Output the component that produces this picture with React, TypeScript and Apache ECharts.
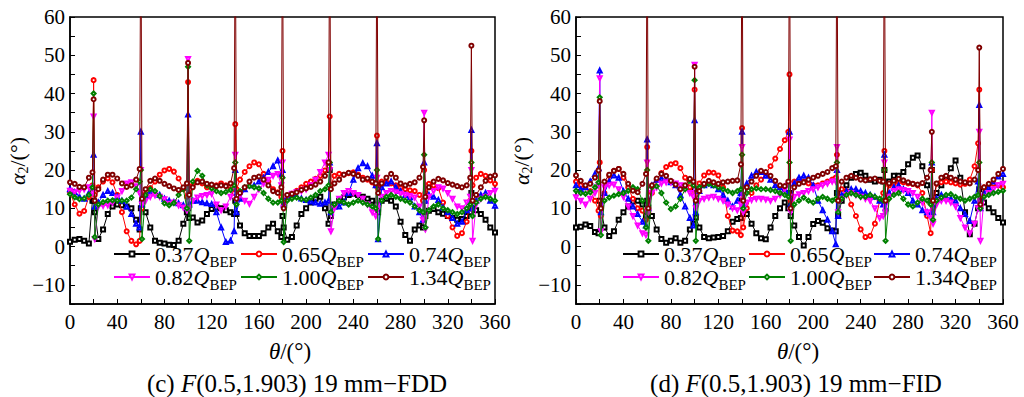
import React, { useEffect, useRef } from 'react';
import * as echarts from 'echarts';

// theta grid (deg): 4-deg steps plus points at +/-1 deg around each blade spike
const THETA = [
  0, 4, 8, 12, 16, 19, 20, 21, 24, 28, 32, 36,
  40, 44, 48, 52, 56, 59, 60, 61, 64, 68, 72, 76,
  80, 84, 88, 92, 96, 99, 100, 101, 104, 108, 112, 116,
  120, 124, 128, 132, 136, 139, 140, 141, 144, 148, 152, 156,
  160, 164, 168, 172, 176, 179, 180, 181, 184, 188, 192, 196,
  200, 204, 208, 212, 216, 219, 220, 221, 224, 228, 232, 236,
  240, 244, 248, 252, 256, 259, 260, 261, 264, 268, 272, 276,
  280, 284, 288, 292, 296, 299, 300, 301, 304, 308, 312, 316,
  320, 324, 328, 332, 336, 339, 340, 341, 344, 348, 352, 356,
  360,
];

const SERIES_NAMES = ['0.37', '0.65', '0.74', '0.82', '1.00', '1.34'];

// ---- panel (c) FDD ----
const C_037 = [
  1.3, 1.8, 2.0, 1.5, 0.8, 12, 12, 9, 2, 4.5, 8.5, 10.5,
  11, 10.8, 10.5, 10, 7, 4.5, 10, 12, 9, 5, 1.5, 1,
  0.8, 0.5, 0.4, 1.5, 6, 9, 10, 7.5, 7.6, 6.3, 6.8, 8.5,
  9.8, 10.2, 10, 9.5, 9, 8.5, 12, 8.5, 5.5, 3.5, 2.8, 2.8,
  2.8, 3.5, 5, 6, 4, 2.5, 8, 5, 1.8, 2.5, 5.5, 8.5,
  10.0, 11.5, 12.5, 13.0, 10, 6, 20, 8, 11.0, 12.0, 12.8, 13.5,
  13.8, 13.5, 13.0, 12.5, 12.0, 11, 16, 9, 12.0, 12.5, 12.0, 10.5,
  6.5, 3.0, 1.5, 4.5, 5.5, 5, 12, 8, 9.4, 9.8, 9.0, 8.6,
  8.0, 7.5, 7.0, 7.2, 8.0, 9, 14, 10, 9.5, 8.5, 7.0, 5.0,
  3.7,
];
const C_065 = [
  14.2, 11.0, 8.6, 9.3, 13.0, 16, 43.5, 13.5, 15.5, 17.0, 17.8, 16.8,
  13.5, 9.0, 4.0, 1.5, 0.6, 1.5, 14, 10, 13.5, 15.3, 17.0, 18.8,
  19.9, 20.3, 19.6, 17.8, 15.0, 13, 43, 14, 16.0, 17.2, 16.5, 15.5,
  15.5, 16.0, 16.5, 16.0, 15.0, 14, 32, 15, 17.5, 19.5, 21.0, 22.0,
  21.5, 19.0, 17.0, 15.0, 14.2, 13, 25, 11, 12.5, 13.8, 14.6, 15.5,
  16.4, 17.0, 17.7, 18.5, 19.9, 21, 34, 16, 18.5, 19.0, 18.8, 19.2,
  19.4, 18.8, 18.0, 17.5, 16.8, 16, 29, 15, 17.0, 16.8, 16.5, 16.0,
  15.4, 15.0, 14.7, 14.5, 13.5, 12, 20, 14, 16.4, 16.0, 15.3, 11.5,
  8.0, 5.0, 2.8, 3.5, 6.5, 12, 25, 16, 18.0, 19.0, 18.5, 17.3,
  16.4,
];
const C_074 = [
  15.0, 14.2, 13.0, 12.5, 14.0, 15.5, 24, 10.5, 11.5, 13.5, 14.5, 14.0,
  13.0, 12.0, 10.5, 8.5, 6.0, 5, 30, 11, 13.5, 14.2, 14.2, 13.5,
  12.5, 12.0, 11.6, 11.3, 10.8, 10.2, 34.5, 11, 12.0, 12.0, 11.6, 11.3,
  11.1, 9.0, 5.0, 1.2, 1.5, 4, 20, 9, 12.5, 15.0, 16.0, 16.0,
  17.0, 18.0, 19.5, 21.0, 22.5, 19, 20, 11, 13.0, 13.5, 13.2, 12.6,
  12.2, 11.8, 11.5, 11.2, 11.5, 12, 22, 9, 10.5, 10.5, 11.5, 14.0,
  17.5, 20.5, 21.8, 21.0, 18.5, 16, 27, 1.9, 15.5, 16.5, 17.0, 15.5,
  14.5, 13.5, 12.9, 10.5, 9.0, 7, 22, 12, 13.5, 13.0, 12.2, 10.2,
  9.0, 7.5, 6.0, 6.5, 9.5, 12, 30.5, 10, 12.0, 13.5, 14.0, 12.0,
  10.7,
];
const C_082 = [
  14.6, 14.2, 14.6, 15.0, 15.5, 14, 34, 2, 10.5, 10.7, 10.8, 11.5,
  12.8, 14.5, 16.5, 16.8, 15.8, 14, 20, 11, 12.0, 13.0, 13.4, 13.0,
  12.4, 11.2, 11.5, 10.8, 10.2, 9.5, 49, 10, 12.0, 12.8, 13.2, 13.5,
  13.8, 11.0, 9.5, 10.5, 13.0, 16, 24, 12, 13.5, 12.0, 11.2, 13.0,
  15.0, 16.5, 17.5, 18.5, 19.0, 16, 22, 10, 13.0, 13.8, 14.2, 14.5,
  15.0, 16.0, 17.5, 19.5, 22.0, 24, 20, 4, 10.0, 12.5, 14.0, 14.5,
  14.0, 13.5, 12.5, 11.0, 9.0, 8, 18, 10, 13.0, 14.0, 14.5, 14.2,
  13.8, 13.5, 13.2, 12.8, 10.5, 7, 35, 4.5, 13.0, 14.5, 15.5, 15.2,
  14.0, 12.5, 10.5, 10.0, 11.5, 13, 20, 1.5, 11.0, 12.5, 13.0, 14.0,
  14.6,
];
const C_100 = [
  13.7, 12.9, 12.4, 12.6, 13.5, 15.5, 40, 2.5, 11.0, 11.6, 12.0, 12.1,
  12.0, 12.0, 12.0, 12.8, 15.0, 17, 20, 2, 13.5, 15.0, 14.5, 13.2,
  11.3, 10.8, 11.4, 13.5, 15.0, 10, 47, 1.5, 17.0, 19.8, 18.5, 16.0,
  15.2, 14.5, 14.0, 14.3, 14.8, 16, 22, 11, 14.5, 15.5, 15.8, 15.5,
  15.2, 14.0, 12.5, 11.5, 11.5, 12, 18, 1.2, 12.0, 12.5, 12.8, 12.4,
  12.2, 12.8, 13.5, 14.5, 15.0, 16, 22, 9, 11.0, 12.0, 11.5, 11.0,
  11.5, 12.0, 11.5, 11.0, 10.5, 10, 20, 2, 12.0, 13.0, 13.5, 13.0,
  12.5, 12.0, 11.5, 10.5, 9.5, 9, 24, 5, 9.5, 10.5, 11.0, 10.0,
  9.5, 9.0, 8.5, 9.0, 10.0, 11, 22, 8, 11.5, 12.5, 13.0, 12.5,
  12.0,
];
const C_134 = [
  16.8, 16.4, 15.6, 15.5, 18.0, 19.4, 38.5, 12.0, 15.0, 17.5, 18.8, 18.8,
  17.8, 16.5, 15.6, 16.0, 17.5, 20.3, 90, 12.5, 15.0, 17.2, 17.8, 17.2,
  16.4, 15.8, 15.2, 14.8, 15.5, 16.5, 48, 13.5, 15.5, 16.8, 17.0, 16.4,
  16.2, 15.8, 16.0, 15.8, 16.5, 20.5, 90, 12.5, 14.0, 15.5, 17.0, 18.0,
  18.3, 17.5, 16.0, 14.5, 14.0, 15.5, 90, 10, 13.5, 13.8, 14.2, 14.8,
  15.2, 15.6, 16.2, 17.0, 18.5, 22, 90, 15, 16.5, 17.5, 18.8, 19.3,
  19.0, 18.5, 17.5, 17.8, 17.0, 16.5, 90, 14, 16.5, 18.0, 19.0, 18.0,
  16.5, 16.0, 16.4, 16.8, 18.0, 20.8, 33, 13, 15.5, 17.0, 17.7, 17.3,
  16.6, 16.2, 15.8, 15.5, 16.0, 18.0, 52.5, 12, 13.5, 15.5, 17.2, 18.3,
  18.6,
];

// ---- panel (d) FID ----
const D_037 = [
  5.0, 5.2, 5.8, 5.4, 3.8, 3.5, 12, 10, 5.0, 2.8, 4.0, 7.0,
  9.0, 10.5, 11.8, 12.0, 11.0, 8.0, 12, 10.2, 8.0, 4.5, 2.0, 1.0,
  1.5, 2.2, 1.0, 1.5, 4.5, 6.0, 15, 7.6, 5.0, 2.5, 2.2, 2.4,
  2.5, 2.8, 4.0, 6.5, 7.2, 7.5, 12, 8.5, 8.5, 6.0, 3.5, 2.2,
  1.9, 5.0, 8.0, 10.0, 11.5, 10, 14, 8, 5.5, 2.5, 0.3, 2.5,
  5.9, 6.7, 6.2, 4.8, 4.2, 4, 14, 8, 12.0, 16.0, 18.0, 19.0,
  19.3, 18.5, 17.5, 17.0, 17.5, 17, 20, 12, 17.0, 18.5, 18.5, 19.5,
  21.5, 23.2, 23.8, 21.0, 16.0, 12, 20, 10, 14.0, 16.0, 18.0, 20.5,
  22.5, 18.0, 9.0, 3.2, 6.0, 10, 15, 12, 11.5, 10.0, 9.0, 7.5,
  6.3,
];
const D_065 = [
  17.0, 16.0, 15.5, 14.5, 12.0, 9.4, 22, 8, 14.0, 18.5, 19.8, 20.3,
  18.0, 15.5, 12.5, 10.0, 9.4, 7, 26, 9, 14.0, 17.5, 19.2, 20.8,
  21.5, 21.8, 20.5, 18.0, 15.5, 14, 41, 12, 16.5, 18.6, 19.4, 19.3,
  18.6, 15.5, 8.0, 4.2, 4.0, 3, 31, 5, 10.0, 14.0, 16.0, 17.5,
  19.0, 21.0, 23.0, 25.5, 27.8, 30, 45, 12, 17.0, 17.5, 17.0, 16.5,
  16.0, 16.0, 16.5, 17.0, 17.5, 18, 24, 13, 15.0, 14.5, 11.0, 8.0,
  4.5, 2.5, 2.8, 6.0, 12.0, 14, 25, 12, 16.0, 16.5, 17.0, 16.8,
  16.5, 16.4, 16.0, 14.0, 8.0, 3.5, 20, 10, 16.4, 16.8, 17.0, 16.8,
  16.5, 16.2, 16.4, 17.5, 21.0, 27, 41, 11, 15.5, 16.2, 16.4, 16.0,
  15.5,
];
const D_074 = [
  16.0, 15.0, 15.5, 17.0, 19.0, 20.5, 46, 9, 14.0, 17.0, 18.6, 18.0,
  14.5, 12.5, 10.5, 8.5, 6.5, 5.5, 28, 10, 16.0, 17.5, 17.8, 17.5,
  16.8, 16.0, 13.5, 10.5, 7.5, 5.5, 33, 9, 14.5, 16.0, 16.5, 16.0,
  15.0, 13.5, 12.0, 10.5, 12.0, 14, 30, 11, 16.5, 18.5, 19.5, 19.5,
  18.5, 17.5, 16.0, 15.5, 15.0, 14, 30, 11, 16.5, 18.0, 18.5, 18.0,
  16.0, 12.0, 9.5, 7.0, 4.0, 0.6, 20, 8, 13.5, 14.5, 15.0, 15.0,
  14.5, 14.0, 13.5, 13.0, 12.0, 11, 24, 10, 14.0, 15.5, 16.0, 15.0,
  14.0, 12.0, 11.0, 9.5, 9.0, 8.5, 22, 9, 12.5, 13.5, 13.0, 12.5,
  12.0, 10.0, 8.5, 6.7, 12.0, 17, 37, 10, 14.0, 15.5, 17.0, 18.3,
  19.0,
];
const D_082 = [
  12.9, 12.0, 11.0, 12.5, 14.0, 16, 44, 4, 15.5, 16.0, 16.2, 15.0,
  13.0, 10.5, 8.0, 5.5, 3.5, 3, 22, 9, 14.0, 15.5, 16.5, 16.8,
  16.8, 16.5, 16.0, 15.0, 14.0, 13, 47.5, 10, 12.0, 12.5, 12.8, 13.0,
  12.5, 12.0, 11.0, 10.0, 9.5, 11, 26, 9, 11.5, 12.2, 12.5, 12.5,
  12.3, 12.0, 12.5, 13.5, 15.0, 16, 28, 9, 13.0, 13.7, 14.0, 14.5,
  15.0, 15.5, 16.0, 16.5, 17.0, 17, 26, 9, 12.5, 13.5, 14.0, 13.5,
  13.0, 12.5, 12.0, 10.0, 7.5, 8, 22, 9, 13.0, 14.5, 15.0, 14.8,
  14.5, 14.0, 13.0, 11.5, 9.0, 7.5, 35, 6, 11.0, 12.0, 12.0, 11.5,
  10.5, 7.5, 5.0, 3.5, 6.0, 10, 30, 1.5, 13.0, 14.0, 15.0, 16.0,
  16.4,
];
const D_100 = [
  14.6, 14.0, 13.8, 14.2, 15.5, 16.8, 39, 3, 12.0, 12.8, 13.3, 13.7,
  14.0, 14.6, 15.5, 15.0, 12.0, 5, 20, 1.5, 15.5, 15.8, 14.0, 11.5,
  9.8, 10.5, 12.5, 15.0, 17.2, 16, 43.5, 1.5, 15.5, 16.0, 16.4, 16.0,
  15.5, 15.0, 14.5, 14.0, 14.5, 15, 24, 10, 14.0, 15.0, 15.2, 15.0,
  15.0, 14.8, 14.5, 14.0, 13.5, 13, 22, 1.5, 11.0, 12.0, 12.8, 12.0,
  11.5, 12.5, 13.0, 12.5, 12.0, 12.5, 22, 9, 12.5, 13.5, 14.0, 13.5,
  13.0, 13.0, 13.5, 13.0, 12.5, 12, 20, 1.5, 12.5, 13.5, 14.0, 12.5,
  11.0, 10.5, 11.5, 12.5, 12.0, 11, 22, 7, 12.0, 12.8, 13.5, 13.7,
  13.0, 12.5, 12.0, 12.5, 13.0, 13.5, 22, 10, 13.0, 13.5, 14.0, 14.3,
  14.6,
];
const D_134 = [
  18.6, 17.2, 16.0, 16.4, 18.0, 19.9, 38, 10, 17.0, 18.8, 19.8, 20.3,
  19.0, 16.4, 14.6, 14.2, 16.4, 19, 90, 10, 16.0, 17.8, 19.0, 18.5,
  17.2, 16.2, 15.0, 16.0, 17.7, 17, 47, 12, 14.5, 16.4, 17.2, 16.8,
  16.4, 16.8, 17.0, 17.2, 17.3, 21.5, 90, 12, 15.5, 17.0, 18.5, 19.8,
  19.5, 18.5, 17.2, 16.0, 15.8, 17, 90, 10, 15.5, 16.4, 16.8, 17.5,
  18.0, 18.5, 19.0, 19.5, 20.5, 21, 90, 12, 17.0, 18.0, 18.5, 18.0,
  17.5, 17.3, 17.6, 17.8, 17.2, 17, 90, 12, 16.5, 17.2, 17.7, 17.3,
  16.8, 16.4, 16.2, 16.6, 18.0, 20, 30, 12, 16.5, 18.0, 18.5, 18.0,
  17.5, 17.0, 16.8, 16.5, 17.5, 20, 52, 11, 15.5, 16.4, 17.5, 19.0,
  20.3,
];

const X_LABEL_STEP = 40;
const Y_LABEL_STEP = 10;

const COLORS = ['#000000', '#ff0000', '#0000ff', '#ff00ff', '#008000', '#800000'];
const SYMBOLS = ['emptyRect', 'emptyCircle', 'emptyTriangle', 'emptyTriangle', 'emptyDiamond', 'emptyCircle'];
const ROTATES = [0, 0, 0, 180, 0, 0];

const FONT = "'Liberation Serif', 'Times New Roman', serif";

function buildOption(): any {
  const panels = [
    { grid: { left: 70, top: 17, width: 425, height: 287 }, sets: [C_037, C_065, C_074, C_082, C_100, C_134], legendX: [113, 240, 367] },
    { grid: { left: 576, top: 17, width: 427, height: 287 }, sets: [D_037, D_065, D_074, D_082, D_100, D_134], legendX: [622, 748, 873] },
  ];
  const legendRowsTop = [239, 262];

  const grid: any[] = [];
  const xAxis: any[] = [];
  const yAxis: any[] = [];
  const series: any[] = [];
  const legend: any[] = [];

  const legendRich = {
    n: { fontSize: 22, fontFamily: FONT, color: '#000' },
    i: { fontSize: 22, fontFamily: FONT, fontStyle: 'italic', color: '#000' },
    s: { fontSize: 15, fontFamily: FONT, color: '#000', lineHeight: 15, padding: [15, 0, 0, 0] },
  };

  panels.forEach((p, pi) => {
    grid.push({ ...p.grid, show: true, borderColor: '#000', borderWidth: 1.5, backgroundColor: 'transparent' });
    xAxis.push({
      type: 'value', gridIndex: pi, min: 0, max: 360, interval: 20,
      axisLine: { onZero: false, lineStyle: { color: '#000', width: 1.5 } },
      axisTick: { inside: true, length: 5, lineStyle: { color: '#000', width: 1 } },
      splitLine: { show: false },
      axisLabel: {
        formatter: (v: number) => (v % X_LABEL_STEP === 0 ? String(v) : ''),
        fontSize: 21, fontFamily: FONT, color: '#000', margin: 7,
      },
    });
    yAxis.push({
      type: 'value', gridIndex: pi, min: -15, max: 60, interval: 5,
      axisLine: { onZero: false, lineStyle: { color: '#000', width: 1.5 } },
      axisTick: { inside: true, length: 5, lineStyle: { color: '#000', width: 1 } },
      splitLine: { show: false },
      axisLabel: {
        formatter: (v: number) => (v % Y_LABEL_STEP === 0 ? (v < 0 ? '\u2212' + Math.abs(v) : String(v)) : ''),
        fontSize: 21, fontFamily: FONT, color: '#000', margin: 5,
      },
    });
    p.sets.forEach((vals, si) => {
      series.push({
        type: 'line', name: SERIES_NAMES[si], xAxisIndex: pi, yAxisIndex: pi,
        data: THETA.map((t, k) => [t, vals[k]]),
        symbol: SYMBOLS[si], symbolSize: 4, symbolRotate: ROTATES[si],
        showSymbol: true, clip: true,
        lineStyle: { color: COLORS[si], width: 1 },
        itemStyle: { color: COLORS[si], borderColor: COLORS[si], borderWidth: 1 },
        z: 2 + si,
      });
    });
    SERIES_NAMES.forEach((name, si) => {
      legend.push({
        data: [name],
        left: p.legendX[si % 3],
        top: legendRowsTop[Math.floor(si / 3)],
        itemWidth: 36, itemHeight: 6, itemGap: 0, padding: 0,
        selectedMode: false,
        formatter: (nm: string) => `{n|${nm}}{i|Q}{s|BEP}`,
        textStyle: { rich: legendRich },
      });
    });
  });

  const textBase = { fill: '#000', fontFamily: FONT, align: 'center', verticalAlign: 'middle' };
  const yRich = {
    n: { fontSize: 22, fontFamily: FONT }, i: { fontSize: 22, fontFamily: FONT, fontStyle: 'italic' },
    s: { fontSize: 14, fontFamily: FONT, lineHeight: 14, padding: [12, 0, 0, 0] },
  };
  const plainRich = (size: number) => ({
    n: { fontSize: size, fontFamily: FONT }, i: { fontSize: size, fontFamily: FONT, fontStyle: 'italic' },
  });
  const graphic: any[] = [
    { type: 'text', x: 17, y: 161, rotation: Math.PI / 2, style: { ...textBase, text: '{i|\u03b1}{s|2}{n|/(\u00b0)}', rich: yRich } },
    { type: 'text', x: 521, y: 161, rotation: Math.PI / 2, style: { ...textBase, text: '{i|\u03b1}{s|2}{n|/(\u00b0)}', rich: yRich } },
    { type: 'text', x: 290, y: 351, style: { ...textBase, text: '{i|\u03b8}{n|/(\u00b0)}', rich: plainRich(23) } },
    { type: 'text', x: 798, y: 351, style: { ...textBase, text: '{i|\u03b8}{n|/(\u00b0)}', rich: plainRich(23) } },
    { type: 'text', x: 297, y: 383, style: { ...textBase, text: '{n|(c) }{i|F}{n|(0.5,1.903) 19 mm\u2212FDD}', rich: plainRich(25) } },
    { type: 'text', x: 796, y: 383, style: { ...textBase, text: '{n|(d) }{i|F}{n|(0.5,1.903) 19 mm\u2212FID}', rich: plainRich(25) } },
  ];

  return {
    animation: false,
    backgroundColor: '#ffffff',
    textStyle: { fontFamily: FONT },
    grid, xAxis, yAxis, series, legend, graphic,
  };
}

export default function App() {
  const ref = useRef<HTMLDivElement>(null);
  useEffect(() => {
    if (!ref.current) return;
    const chart = echarts.init(ref.current, undefined, { renderer: 'svg' });
    chart.setOption(buildOption());
    return () => chart.dispose();
  }, []);
  return (
    <div
      ref={ref}
      style={{ position: 'fixed', left: 0, top: 0, width: 1024, height: 397, background: '#fff' }}
    />
  );
}
